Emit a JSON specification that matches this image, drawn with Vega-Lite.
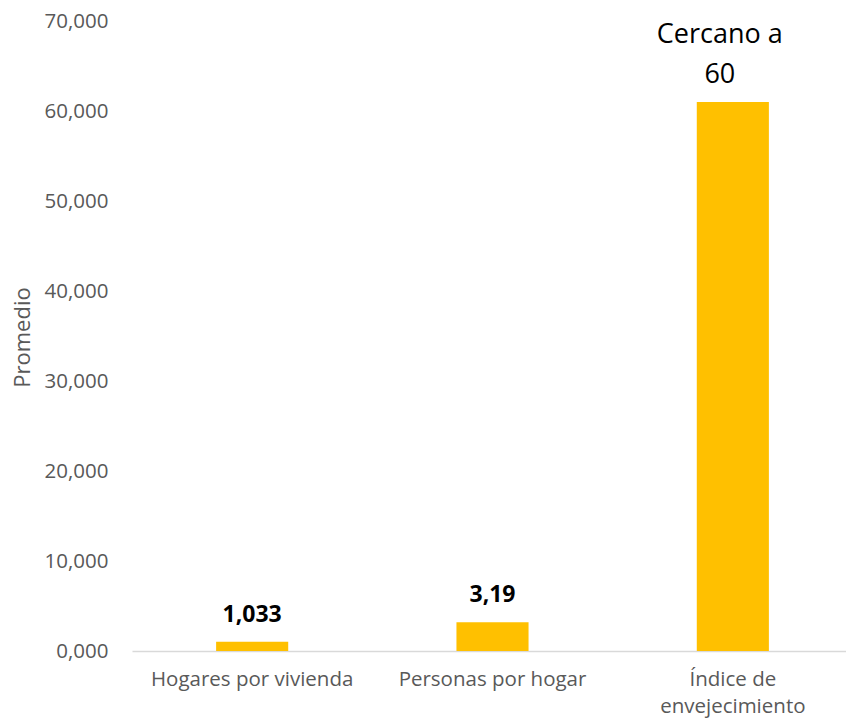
{
  "$schema": "https://vega.github.io/schema/vega-lite/v6.json",
  "autosize": {"type": "none"},
  "padding": {"left": 132, "top": 21, "right": 0, "bottom": 70},
  "width": 721,
  "height": 630,
  "background": "white",
  "config": {"view": {"stroke": null}, "font": "Open Sans"},
  "data": {
    "values": [
      {"categoria": "Hogares por vivienda", "promedio": 1.033, "etiqueta": "1,033", "tipo": "valor"},
      {"categoria": "Personas por hogar", "promedio": 3.19, "etiqueta": "3,19", "tipo": "valor"},
      {"categoria": "Índice de envejecimiento", "promedio": 61.0, "etiqueta": "Cercano a\n60", "tipo": "nota"}
    ]
  },
  "encoding": {
    "x": {
      "field": "categoria",
      "type": "nominal",
      "sort": null,
      "title": null,
      "scale": {"paddingInner": 0.7, "paddingOuter": 0.35},
      "axis": {
        "labelAngle": 0,
        "labelFont": "Open Sans",
        "labelFontSize": 20.5,
        "labelColor": "#595959",
        "labelPadding": 18,
        "labelLineHeight": 27,
        "labelLimit": 400,
        "ticks": false,
        "domainColor": "#D9D9D9",
        "domainWidth": 1.5,
        "labelExpr": "datum.label == 'Índice de envejecimiento' ? ['Índice de', 'envejecimiento'] : datum.label"
      }
    },
    "y": {
      "field": "promedio",
      "type": "quantitative",
      "title": "Promedio",
      "scale": {"domain": [0, 70], "nice": false},
      "axis": {
        "values": [0, 10, 20, 30, 40, 50, 60, 70],
        "labelExpr": "replace(format(datum.value, '.3f'), '.', ',')",
        "labelFont": "Open Sans",
        "labelFontSize": 20.5,
        "labelColor": "#595959",
        "labelPadding": 24,
        "ticks": false,
        "domain": false,
        "grid": false,
        "titleFont": "Open Sans",
        "titleFontSize": 22,
        "titleFontWeight": "normal",
        "titleColor": "#595959",
        "titleX": -110,
        "titleY": 316,
        "titleAlign": "center",
        "titleBaseline": "middle",
        "titleAngle": -90
      }
    }
  },
  "layer": [
    {"mark": {"type": "bar", "color": "#FFC000"}},
    {
      "transform": [{"filter": "datum.tipo == 'valor'"}],
      "mark": {"type": "text", "font": "Open Sans", "fontSize": 23, "fontWeight": "bold", "color": "#000000", "baseline": "alphabetic", "dy": -20},
      "encoding": {"text": {"field": "etiqueta"}}
    },
    {
      "transform": [{"filter": "datum.tipo == 'nota'"}],
      "mark": {"type": "text", "font": "Open Sans", "fontSize": 27, "color": "#000000", "baseline": "alphabetic", "lineBreak": "\n", "lineHeight": 40, "dy": -59, "dx": -13},
      "encoding": {"text": {"field": "etiqueta"}}
    }
  ]
}
